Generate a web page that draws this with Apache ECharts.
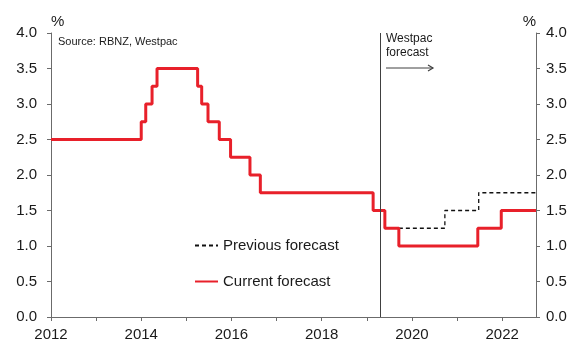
<!DOCTYPE html>
<html>
<head>
<meta charset="utf-8">
<script src="https://cdn.jsdelivr.net/npm/echarts@6/dist/echarts.min.js"></script>
<style>
  * { margin: 0; padding: 0; }
  body { background: #fff; }
</style>
</head>
<body>
<div id="main" style="width:574px;height:342px;"></div>
<script>
// step dates (decimal year) where the rate changes, and the new value
var currentDates = [2012, 2014.0, 2014.10, 2014.24, 2014.35, 2015.25, 2015.34, 2015.48, 2015.73, 2015.98,
  2016.41, 2016.64, 2019.14, 2019.40, 2019.71, 2021.46, 2021.98, 2022.75];
var currentValues = [2.5, 2.75, 3.0, 3.25, 3.5, 3.25, 3.0, 2.75, 2.5, 2.25,
  2.0, 1.75, 1.5, 1.25, 1.0, 1.25, 1.5, 1.5];
var previousDates = [2019.40, 2020.73, 2021.48, 2022.75];
var previousValues = [1.25, 1.5, 1.75, 1.75];
var forecastStart = 2019.29;
var yTicks = ['0.0', '0.5', '1.0', '1.5', '2.0', '2.5', '3.0', '3.5', '4.0'];

var font = 'Liberation Sans, Arial, sans-serif';
var axisGrey = '#6b6b6b';

function pairs(xs, ys) {
  return xs.map(function (x, i) { return [x, ys[i]]; });
}

function yAxisCfg(pos, margin, align) {
  return {
    type: 'value',
    position: pos,
    min: 0, max: 4, interval: 0.5,
    name: '%',
    nameLocation: 'end',
    nameGap: 4,
    nameTextStyle: { fontFamily: font, fontSize: 15, color: '#1a1a1a', align: align },
    axisLine: { show: true, lineStyle: { color: axisGrey } },
    axisTick: { show: true, inside: false, length: 4, lineStyle: { color: axisGrey } },
    splitLine: { show: false },
    axisLabel: {
      margin: margin, fontFamily: font, fontSize: 15, color: '#1a1a1a',
      formatter: function (v) { return yTicks[Math.round(v * 2)]; }
    }
  };
}

var chart = echarts.init(document.getElementById('main'));
chart.setOption({
  animation: false,
  grid: { left: 51, right: 38, top: 33, bottom: 25 },
  legend: {
    orient: 'vertical',
    left: 189, top: 233,
    itemWidth: 23, itemHeight: 14, itemGap: 21,
    data: ['Previous forecast', 'Current forecast'],
    itemStyle: { opacity: 0 },
    textStyle: { fontFamily: font, fontSize: 15, color: '#1a1a1a' }
  },
  xAxis: {
    type: 'value',
    min: 2012, max: 2022.75, interval: 1,
    axisLine: { show: true, lineStyle: { color: axisGrey } },
    axisTick: { show: true, length: 4, lineStyle: { color: axisGrey } },
    splitLine: { show: false },
    axisLabel: {
      margin: 10, fontFamily: font, fontSize: 15, color: '#1a1a1a',
      showMaxLabel: false,
      formatter: function (v) { return v % 2 === 0 ? String(v) : ''; }
    }
  },
  yAxis: [yAxisCfg('left', 14, 'left'), yAxisCfg('right', 10, 'right')],
  graphic: [
    { type: 'text', left: 58, top: 36,
      style: { text: 'Source: RBNZ, Westpac', font: '11px ' + font, fill: '#1a1a1a' } },
    { type: 'text', left: 386, top: 32,
      style: { text: 'Westpac\nforecast', font: '12px ' + font, lineHeight: 14, fill: '#1a1a1a' } },
    { type: 'polyline', shape: { points: [[386, 68], [433, 68]] },
      style: { stroke: '#404040', lineWidth: 1 } },
    { type: 'polyline', shape: { points: [[428, 65], [433, 68], [428, 71]] },
      style: { stroke: '#404040', lineWidth: 1.2, fill: null } }
  ],
  series: [
    {
      name: 'Previous forecast',
      type: 'line',
      step: 'end',
      symbol: 'none',
      z: 2,
      data: pairs(previousDates, previousValues),
      lineStyle: { color: '#111', width: 1.3, type: [4, 3] },
      itemStyle: { color: '#111' }
    },
    {
      name: 'Current forecast',
      type: 'line',
      step: 'end',
      symbol: 'none',
      z: 3,
      data: pairs(currentDates, currentValues),
      lineStyle: { color: '#e8202a', width: 3 },
      itemStyle: { color: '#e8202a' },
      markLine: {
        silent: true,
        symbol: 'none',
        label: { show: false },
        lineStyle: { color: '#404040', width: 1, type: 'solid' },
        data: [{ xAxis: forecastStart }]
      }
    }
  ]
});
</script>
</body>
</html>
